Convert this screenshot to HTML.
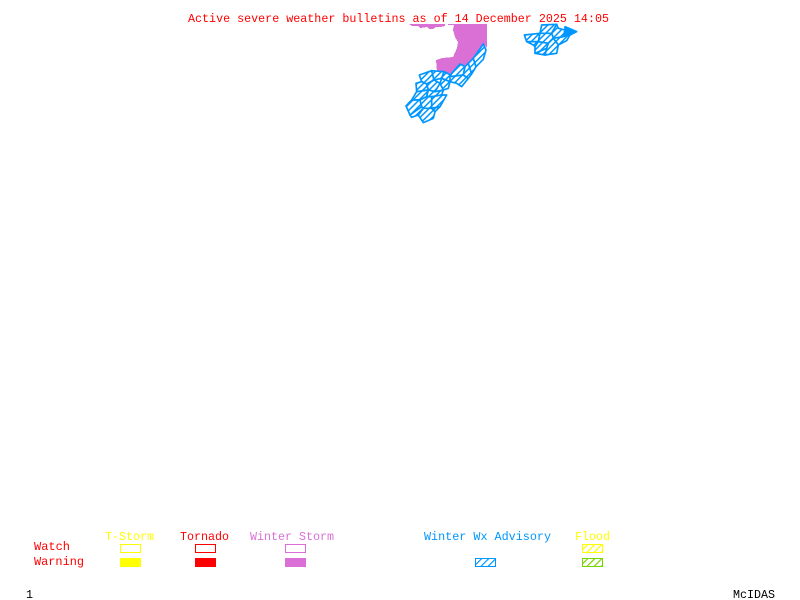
<!DOCTYPE html>
<html><head><meta charset="utf-8"><style>
html,body{margin:0;padding:0;background:#fff}
svg{display:block}
text{font-family:"Liberation Mono",monospace;font-size:12px}
</style></head><body>
<svg width="800" height="600" viewBox="0 0 800 600" xmlns="http://www.w3.org/2000/svg">
<defs>
<pattern id="h1" patternUnits="userSpaceOnUse" width="13" height="13" patternTransform="rotate(45)"><rect width="13" height="13" fill="#fff"/><rect width="4.5" height="13" fill="#0096ff"/></pattern>
<pattern id="hb" patternUnits="userSpaceOnUse" width="5" height="5" patternTransform="rotate(45)"><rect width="5" height="5" fill="#fff"/><rect width="1.2" height="5" fill="#0096ff"/></pattern>
<pattern id="hy" patternUnits="userSpaceOnUse" width="5" height="5" patternTransform="rotate(45)"><rect width="5" height="5" fill="#fff"/><rect width="1.2" height="5" fill="#ffff00"/></pattern>
<pattern id="hg" patternUnits="userSpaceOnUse" width="5" height="5" patternTransform="rotate(45)"><rect width="5" height="5" fill="#fff"/><rect width="1.2" height="5" fill="#76d600"/></pattern>
</defs>
<rect width="800" height="600" fill="#fff"/>
<text x="188" y="22" fill="#ff0000" textLength="421" lengthAdjust="spacingAndGlyphs">Active severe weather bulletins as of 14 December 2025 14:05</text>

<g shape-rendering="crispEdges">
<polygon fill="#da70d6" points="409,24 445,24 445,26 440,27 436,27 433,29 429,29 427,27 420,28 418,26 412,26"/>
<polygon fill="#da70d6" points="448,24 487,24 487,48 484,44 470,62 452,74 437,72 436,60 442,58 453,57 457,48 458,42 455,37 453,30 454,25 448,25"/>
</g>

<g transform="translate(400,20) scale(0.33333)" fill="url(#h1)" stroke="#0096ff" stroke-width="5" stroke-linejoin="round">
<polygon points="58,165 95,152 102,180 80,192 65,185"/>
<polygon points="95,152 132,155 125,175 102,180"/>
<polygon points="132,155 152,165 150,185 125,175"/>
<polygon points="65,185 80,192 85,210 50,215 48,190"/>
<polygon points="80,192 102,180 120,190 105,215 85,210"/>
<polygon points="120,190 125,175 150,185 145,205 130,210"/>
<polygon points="50,215 85,210 80,230 60,240 35,240"/>
<polygon points="85,210 105,215 130,210 125,225 95,230 80,230"/>
<polygon points="95,230 125,225 140,225 120,260 95,265"/>
<polygon points="35,240 60,240 65,260 30,285 18,258"/>
<polygon points="60,240 80,230 95,230 95,265 70,265 65,260"/>
<polygon points="30,285 65,260 70,265 55,285 35,292"/>
<polygon points="70,265 95,265 105,275 100,295 70,308 55,285"/>
<polygon points="95,265 120,260 105,275"/>
<polygon points="155,160 180,132 195,140 190,165 150,170"/>
<polygon points="150,170 190,165 205,175 185,200 170,190 150,185"/>
<polygon points="195,140 205,130 215,162 205,175 190,165"/>
<polygon points="205,130 220,115 228,140 215,162"/>
<polygon points="220,115 250,72 258,90 250,118 228,140"/>
</g>

<g transform="translate(515,20) scale(0.33333)" fill="url(#h1)" stroke="#0096ff" stroke-width="5" stroke-linejoin="round">
<polygon points="28,45 75,40 70,65 35,65"/>
<polygon points="75,40 80,15 125,13 110,40"/>
<polygon points="110,40 125,13 130,25 150,30 145,50 115,55"/>
<polygon points="150,20 185,35 165,45 145,50 150,30" fill="#0096ff"/>
<polygon points="145,50 165,45 155,62 130,75 115,55"/>
<polygon points="70,65 75,40 110,40 115,55 100,70"/>
<polygon points="35,65 70,65 60,80 55,75"/>
<polygon points="60,80 70,65 100,70 95,85 60,100"/>
<polygon points="100,70 115,55 130,75 125,100 90,105 95,85"/>
<polygon points="60,100 95,85 90,105"/>
</g>

<text x="105" y="540" fill="#ffff00" textLength="49" lengthAdjust="spacingAndGlyphs">T-Storm</text>
<text x="180" y="540" fill="#ff0000" textLength="49" lengthAdjust="spacingAndGlyphs">Tornado</text>
<text x="250" y="540" fill="#da70d6" textLength="84" lengthAdjust="spacingAndGlyphs">Winter Storm</text>
<text x="424" y="540" fill="#0096ff" textLength="127" lengthAdjust="spacingAndGlyphs">Winter Wx Advisory</text>
<text x="575" y="540" fill="#ffff00" textLength="35" lengthAdjust="spacingAndGlyphs">Flood</text>
<text x="34" y="550" fill="#ff0000" textLength="36" lengthAdjust="spacingAndGlyphs">Watch</text>
<text x="34" y="565" fill="#ff0000" textLength="50" lengthAdjust="spacingAndGlyphs">Warning</text>
<text x="26" y="598" fill="#000" textLength="7" lengthAdjust="spacingAndGlyphs">1</text>
<text x="733" y="598" fill="#000" textLength="42" lengthAdjust="spacingAndGlyphs">McIDAS</text>

<g shape-rendering="crispEdges">
<rect x="120.5" y="544.5" width="20" height="8" fill="#fff" stroke="#ffff00"/>
<rect x="195.5" y="544.5" width="20" height="8" fill="#fff" stroke="#ff0000"/>
<rect x="285.5" y="544.5" width="20" height="8" fill="#fff" stroke="#da70d6"/>
<rect x="120" y="558" width="21" height="9" fill="#ffff00"/>
<rect x="195" y="558" width="21" height="9" fill="#ff0000"/>
<rect x="285" y="558" width="21" height="9" fill="#da70d6"/>
<rect x="475.5" y="558.5" width="20" height="8" fill="url(#hb)" stroke="#0096ff"/>
<rect x="582.5" y="544.5" width="20" height="8" fill="url(#hy)" stroke="#ffff00"/>
<rect x="582.5" y="558.5" width="20" height="8" fill="url(#hg)" stroke="#76d600"/>
</g>
</svg>
</body></html>
